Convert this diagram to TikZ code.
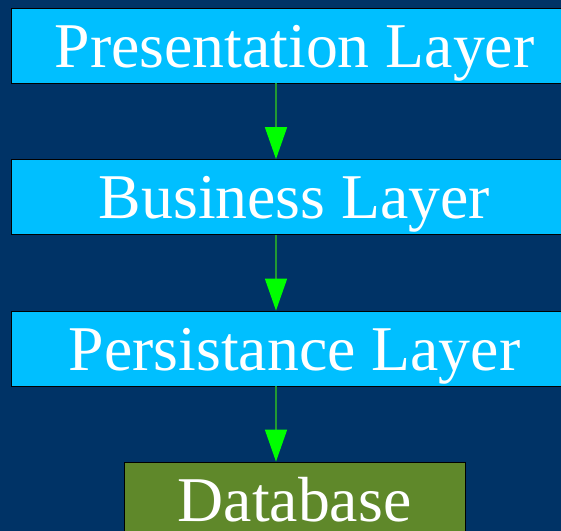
\documentclass[tikz,border=0pt]{standalone}
\usepackage{fontspec}
\setmainfont{Liberation Serif}
\usepackage{tikz}
\usetikzlibrary{arrows.meta,shapes}

\definecolor{bgblue}{RGB}{0,51,102}
\definecolor{layerblue}{RGB}{0,191,255}
\definecolor{dbgreen}{RGB}{95,136,42}
\definecolor{edgegreen}{RGB}{34,153,51}
\definecolor{tipgreen}{RGB}{0,255,0}

\begin{document}
\begin{tikzpicture}[
  layer/.style={draw=black,line width=0.8bp,fill=layerblue,text=white,
    font=\fontsize{64}{64}\selectfont,inner xsep=0pt,inner ysep=0pt,
    text height=59bp,text depth=16bp,minimum width=567bp},
  flow/.style={draw=edgegreen,line width=1.6bp,
    -{Triangle[length=32bp,width=22bp,color=tipgreen]}}
]

\useasboundingbox (0bp,0bp) rectangle (561bp,-531bp);
\clip (0bp,0bp) rectangle (561bp,-531bp);
\fill[bgblue] (0bp,0bp) rectangle (561bp,-531bp);

\node (P) at (294.5bp,-45.5bp)[layer] {Presentation Layer};
\node (B) at (294.5bp,-197bp)[layer] {Business Layer};
\node (S) at (294.5bp,-348.5bp)[layer] {Persistance Layer};
\node (D) at (294.5bp,-499.5bp)[layer,fill=dbgreen,minimum width=341bp] {Database};

\coordinate (X) at (276bp,0bp);
\draw [flow] (P.south -| X) to (B.north -| X);
\draw [flow] (B.south -| X) to (S.north -| X);
\draw [flow] (S.south -| X) to (D.north -| X);
\end{tikzpicture}
\end{document}
